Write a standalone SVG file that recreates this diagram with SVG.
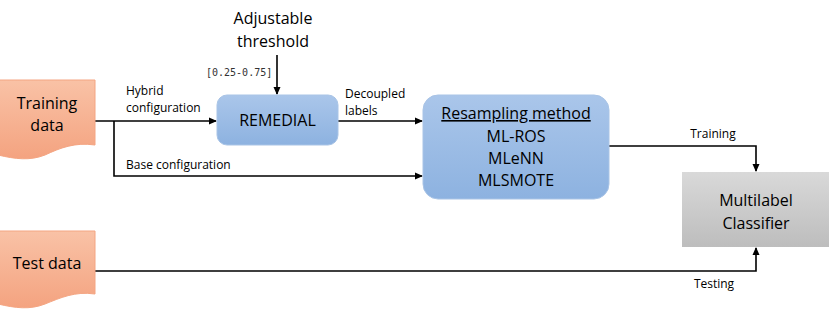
<svg xmlns="http://www.w3.org/2000/svg" width="830" height="310" viewBox="0 0 830 310">
<defs>
<linearGradient id="gOrange" x1="0" y1="0" x2="0" y2="1"><stop offset="0" stop-color="#f9c2a6"/><stop offset="1" stop-color="#f4a380"/></linearGradient>
<linearGradient id="gBlue" x1="0" y1="0" x2="0" y2="1"><stop offset="0" stop-color="#aac6ea"/><stop offset="1" stop-color="#8db2e0"/></linearGradient>
<linearGradient id="gGray" x1="0" y1="0" x2="0" y2="1"><stop offset="0" stop-color="#d9d9d9"/><stop offset="1" stop-color="#bdbdbd"/></linearGradient>
<marker id="arr" markerWidth="8" markerHeight="8" refX="7" refY="4" orient="auto" markerUnits="userSpaceOnUse"><path d="M0,0.5 L8,4 L0,7.5 Z" fill="#000"/></marker>
</defs>
<style>
text{font-family:"Open Sans","Liberation Sans",sans-serif;fill:#000}
.big{font-size:16px}
.small{font-size:12px}
.mono{font-family:"DejaVu Sans Mono","Liberation Mono",monospace;font-size:10px;fill:#333}
.c{text-anchor:middle}
.ln{fill:none;stroke:#000;stroke-width:1.6}
</style>
<g id="connectors">
<path class="ln" d="M95,121 H216" marker-end="url(#arr)"/>
<path class="ln" d="M114,121 V176 H422" marker-end="url(#arr)"/>
<path class="ln" d="M277,55 V94" marker-end="url(#arr)"/>
<path class="ln" d="M338,121 H422" marker-end="url(#arr)"/>
<path class="ln" d="M609,146 H756 V171" marker-end="url(#arr)"/>
<path class="ln" d="M95,271 H756 V248" marker-end="url(#arr)"/>
<text class="small" x="126" y="95">Hybrid</text>
<text class="small" x="126" y="112">configuration</text>
<text class="small" x="126" y="169">Base configuration</text>
<text class="small" x="345" y="98">Decoupled</text>
<text class="small" x="345" y="115">labels</text>
<text class="small c" x="713" y="138">Training</text>
<text class="small c" x="714" y="288">Testing</text>
</g>
<g id="training-data">
<path d="M-2,80 H95 V145 C75,142 60,148 45,155 C30,161 15,159 -2,155 Z" fill="url(#gOrange)" stroke="#f4a582" stroke-width="1"/>
<text class="big c" x="47" y="109">Training</text>
<text class="big c" x="47" y="131">data</text>
</g>
<g id="test-data">
<path d="M-2,231 H95 V294 C75,291 60,298 45,304 C30,310 15,308 -2,304 Z" fill="url(#gOrange)" stroke="#f4a582" stroke-width="1"/>
<text class="big c" x="47" y="269">Test data</text>
</g>
<g id="threshold">
<text class="big c" x="273" y="24">Adjustable</text>
<text class="big c" x="273" y="47">threshold</text>
<text class="mono" x="206" y="76">[0.25-0.75]</text>
</g>
<g id="remedial">
<rect x="217" y="95" width="121" height="50" rx="10" fill="url(#gBlue)" stroke="#a9c4e6" stroke-width="1"/>
<text class="big c" x="277.5" y="126">REMEDIAL</text>
</g>
<g id="resampling">
<rect x="423" y="95" width="186" height="104" rx="15" fill="url(#gBlue)" stroke="#a9c4e6" stroke-width="1"/>
<text class="big c" x="516" y="119" text-decoration="underline">Resampling method</text>
<text class="big c" x="516" y="142">ML-ROS</text>
<text class="big c" x="516" y="164">MLeNN</text>
<text class="big c" x="516" y="186">MLSMOTE</text>
</g>
<g id="classifier">
<rect x="682" y="172" width="147" height="75" fill="url(#gGray)"/>
<text class="big c" x="756" y="206">Multilabel</text>
<text class="big c" x="756" y="229">Classifier</text>
</g>
</svg>
